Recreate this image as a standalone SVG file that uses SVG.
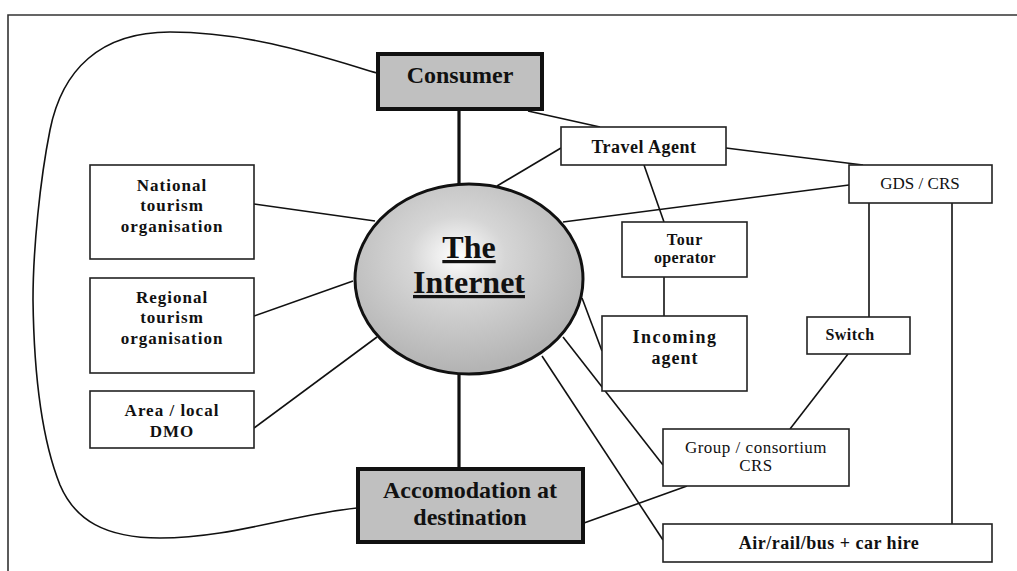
<svg xmlns="http://www.w3.org/2000/svg" width="1017" height="571" viewBox="0 0 1017 571">
<defs>
<radialGradient id="glow" cx="0.45" cy="0.38" r="0.6">
<stop offset="0" stop-color="#ffffff"/>
<stop offset="0.35" stop-color="#d6d6d6"/>
<stop offset="1" stop-color="#b4b4b4"/>
</radialGradient>
<style>
.box{fill:#fff;stroke:#222;stroke-width:1.6}
.thick{fill:#c0c0c0;stroke:#111;stroke-width:4}
.ln{fill:none;stroke:#111;stroke-width:1.6}
.tk{fill:none;stroke:#111;stroke-width:3.2}
text{font-family:"Liberation Serif","Times New Roman",serif;fill:#111;text-anchor:middle}
.b{font-weight:bold}
.big{font-size:24px;font-weight:bold}
.sm{font-size:17px;font-weight:bold;letter-spacing:1px}
</style>
</defs>
<rect width="1017" height="571" fill="#fff"/>
<path d="M8,571 V15 H1017" fill="none" stroke="#333" stroke-width="1.6"/>

<g id="connectors">
<path class="ln" d="M377,73 C320,56 250,32 170,32 C100,32 62,70 50,130 C40,180 33,250 33,300 C34,380 42,440 60,485 C75,520 105,538 160,538 C230,538 290,515 357,508"/>
<line class="tk" x1="459" y1="110" x2="459" y2="185"/>
<line class="tk" x1="459" y1="373" x2="459" y2="468"/>
<line class="ln" x1="528" y1="111" x2="600" y2="127"/>
<line class="ln" x1="497" y1="186" x2="561" y2="148"/>
<line class="ln" x1="726" y1="148" x2="863" y2="165"/>
<line class="ln" x1="563" y1="222" x2="849" y2="185"/>
<line class="ln" x1="644" y1="165" x2="664" y2="222"/>
<line class="ln" x1="664" y1="277" x2="664" y2="316"/>
<line class="ln" x1="869" y1="203" x2="869" y2="317"/>
<line class="ln" x1="952" y1="203" x2="952" y2="524"/>
<line class="ln" x1="848" y1="354" x2="790" y2="429"/>
<line class="ln" x1="582" y1="298" x2="602" y2="351"/>
<line class="ln" x1="563" y1="337" x2="663" y2="465"/>
<line class="ln" x1="542" y1="356" x2="663" y2="540"/>
<line class="ln" x1="584" y1="523" x2="687" y2="486"/>
<line class="ln" x1="254" y1="204" x2="375" y2="221"/>
<line class="ln" x1="254" y1="316" x2="353" y2="281"/>
<line class="ln" x1="254" y1="428" x2="377" y2="337"/>
</g>

<g id="internet">
<ellipse cx="469" cy="279" rx="114" ry="95" fill="url(#glow)" stroke="#111" stroke-width="3"/>
<text x="469" y="258" font-size="32" class="b" text-decoration="underline">The</text>
<text x="469" y="293" font-size="32" class="b" text-decoration="underline">Internet</text>
</g>

<g id="consumer">
<rect class="thick" x="378" y="54" width="164" height="55"/>
<text x="460" y="83" class="big">Consumer</text>
</g>

<g id="accomodation">
<rect class="thick" x="358" y="469" width="225" height="73"/>
<text x="470" y="498" class="big">Accomodation at</text>
<text x="470" y="525" class="big">destination</text>
</g>

<g id="national">
<rect class="box" x="90" y="165" width="164" height="94"/>
<text x="172" y="191" class="sm">National</text>
<text x="172" y="211" class="sm">tourism</text>
<text x="172" y="232" class="sm">organisation</text>
</g>

<g id="regional">
<rect class="box" x="90" y="278" width="164" height="95"/>
<text x="172" y="303" class="sm">Regional</text>
<text x="172" y="323" class="sm">tourism</text>
<text x="172" y="344" class="sm">organisation</text>
</g>

<g id="dmo">
<rect class="box" x="90" y="391" width="164" height="57"/>
<text x="172" y="416" class="sm">Area / local</text>
<text x="172" y="437" class="sm">DMO</text>
</g>

<g id="travel-agent">
<rect class="box" x="561" y="127" width="165" height="38"/>
<text x="644" y="153" font-size="18" class="b" letter-spacing="0.5">Travel Agent</text>
</g>

<g id="gds">
<rect class="box" x="849" y="165" width="143" height="38"/>
<text x="920" y="189" font-size="17">GDS / CRS</text>
</g>

<g id="tour-operator">
<rect class="box" x="622" y="222" width="125" height="55"/>
<text x="685" y="245" font-size="16" class="b" letter-spacing="0.8">Tour</text>
<text x="685" y="263" font-size="16" class="b" letter-spacing="0.3">operator</text>
</g>

<g id="incoming">
<rect class="box" x="602" y="316" width="145" height="75"/>
<text x="675" y="343" font-size="18" class="b" letter-spacing="1.5">Incoming</text>
<text x="675" y="364" font-size="18" class="b" letter-spacing="1">agent</text>
</g>

<g id="switch">
<rect class="box" x="807" y="317" width="103" height="37"/>
<text x="850" y="340" font-size="16" class="b" letter-spacing="0.5">Switch</text>
</g>

<g id="group-crs">
<rect class="box" x="663" y="429" width="186" height="57"/>
<text x="756" y="453" font-size="17" letter-spacing="0.5">Group / consortium</text>
<text x="756" y="471" font-size="17" letter-spacing="0.5">CRS</text>
</g>

<g id="air-rail">
<rect class="box" x="663" y="524" width="329" height="38"/>
<text x="829" y="549" font-size="18" class="b" letter-spacing="0.5">Air/rail/bus + car hire</text>
</g>
</svg>
